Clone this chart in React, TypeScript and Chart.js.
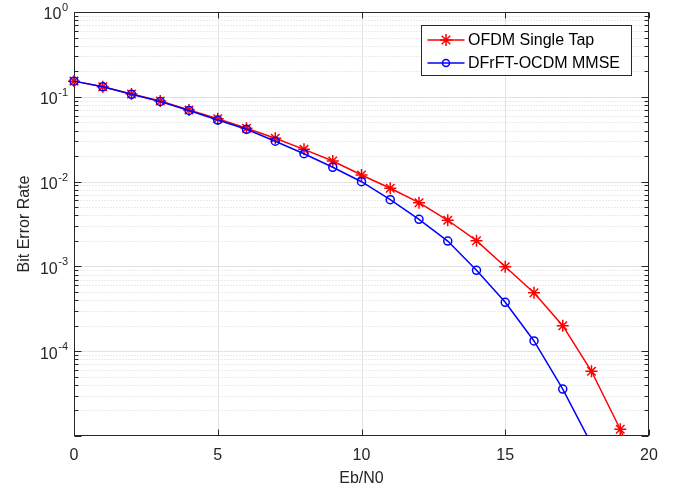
import React, { useEffect, useRef } from "react";
import { Chart, registerables } from "chart.js";

Chart.register(...registerables);

// ---- data ----
const ebn0 = [0, 1, 2, 3, 4, 5, 6, 7, 8, 9, 10, 11, 12, 13, 14, 15, 16, 17, 18, 19, 20];
const ofdmSingleTap = [
  0.153, 0.1315, 0.108, 0.0892, 0.0699, 0.0551, 0.0425, 0.0324, 0.024, 0.0175,
  0.01197, 0.00834, 0.00564, 0.0035, 0.00201, 0.00099, 0.00049, 0.0002, 5.8e-5, 1.2e-5, 2e-6,
];
const ocdmMmse = [
  0.153, 0.131, 0.107, 0.088, 0.069, 0.0532, 0.0414, 0.0299, 0.0213, 0.01475,
  0.00997, 0.00612, 0.00359, 0.00199, 0.0009, 0.000377, 0.000132, 3.58e-5, 8e-6,
];
const seriesNames = ["OFDM Single Tap", "DFrFT-OCDM MMSE"];
const xTicks = [0, 5, 10, 15, 20];
const yDecades = [1e-5, 1e-4, 1e-3, 1e-2, 1e-1, 1];
const yLabelDecades = [1, 1e-1, 1e-2, 1e-3, 1e-4];
const xTitle = "Eb/N0";
const yTitle = "Bit Error Rate";

const FONT = "'Liberation Sans', Arial, Helvetica, sans-serif";
const TEXT = "#262626";

const matlabAxes = {
  id: "matlabAxes",
  beforeDatasetsDraw(chart: any) {
    const { ctx, chartArea, scales } = chart;
    const xs = scales.x;
    const ys = scales.y;
    const L = Math.round(chartArea.left) + 0.5;
    const R = Math.round(chartArea.right) - 0.5;
    const T = Math.round(chartArea.top) + 0.5;
    const B = Math.round(chartArea.bottom) - 0.5;
    const py = (v: number) => Math.round(ys.getPixelForValue(v)) + 0.5;
    const px = (v: number) => Math.round(xs.getPixelForValue(v)) + 0.5;
    ctx.save();
    ctx.lineWidth = 1;

    // minor y grid (dotted)
    const minors: number[] = [];
    for (let i = 0; i < yDecades.length - 1; i++) {
      for (let m = 2; m <= 9; m++) minors.push(yDecades[i] * m);
    }
    ctx.setLineDash([1, 2]);
    ctx.strokeStyle = "#d6d6d6";
    ctx.beginPath();
    minors.forEach((v) => {
      const y = py(v);
      ctx.moveTo(L, y);
      ctx.lineTo(R, y);
    });
    ctx.stroke();

    // major grid (solid)
    ctx.setLineDash([]);
    ctx.strokeStyle = "#e3e3e3";
    ctx.beginPath();
    yDecades.slice(1, -1).forEach((v) => {
      const y = py(v);
      ctx.moveTo(L, y);
      ctx.lineTo(R, y);
    });
    xTicks.slice(1, -1).forEach((v) => {
      const x = px(v);
      ctx.moveTo(x, T);
      ctx.lineTo(x, B);
    });
    ctx.stroke();

    // box
    ctx.strokeStyle = TEXT;
    ctx.strokeRect(L, T, R - L, B - T);

    // ticks
    ctx.beginPath();
    yDecades.forEach((v) => {
      const y = py(v);
      ctx.moveTo(L, y);
      ctx.lineTo(L + 7, y);
      ctx.moveTo(R, y);
      ctx.lineTo(R - 7, y);
    });
    minors.forEach((v) => {
      const y = py(v);
      ctx.moveTo(L, y);
      ctx.lineTo(L + 4, y);
      ctx.moveTo(R, y);
      ctx.lineTo(R - 4, y);
    });
    xTicks.forEach((v) => {
      const x = px(v);
      ctx.moveTo(x, B);
      ctx.lineTo(x, B - 6);
      ctx.moveTo(x, T);
      ctx.lineTo(x, T + 6);
    });
    ctx.stroke();

    // y tick labels 10^n
    ctx.fillStyle = TEXT;
    ctx.textBaseline = "middle";
    const labelRight = chartArea.left - 6;
    yLabelDecades.forEach((v) => {
      const y = ys.getPixelForValue(v);
      const exp = String(Math.round(Math.log10(v)));
      ctx.font = `11px ${FONT}`;
      const ew = ctx.measureText(exp).width;
      ctx.textAlign = "left";
      ctx.fillText(exp, labelRight - ew, y - 4);
      ctx.font = `16px ${FONT}`;
      ctx.textAlign = "right";
      ctx.fillText("10", labelRight - ew - 0.5, y + 3);
    });
    ctx.restore();
  },
  afterDraw(chart: any) {
    const { ctx, chartArea } = chart;
    const bx = Math.round(chartArea.right) - 17.5;
    const left = 421.5;
    const top = Math.round(chartArea.top) + 13.5;
    const w = bx - left;
    const h = 50;
    ctx.save();
    ctx.fillStyle = "#ffffff";
    ctx.fillRect(left, top, w, h);
    ctx.strokeStyle = TEXT;
    ctx.lineWidth = 1;
    ctx.strokeRect(left, top, w, h);
    const colors = ["#ff0000", "#0000ff"];
    const rows = [top + 14.5, top + 37.5];
    seriesNames.forEach((name, i) => {
      const y = rows[i];
      ctx.strokeStyle = colors[i];
      ctx.lineWidth = 1.5;
      ctx.beginPath();
      ctx.moveTo(left + 6, y);
      ctx.lineTo(left + 43, y);
      ctx.stroke();
      const cx = left + 24.5;
      ctx.beginPath();
      if (i === 0) {
        const r = 6;
        for (let k = 0; k < 4; k++) {
          const a = (k * Math.PI) / 4;
          ctx.moveTo(cx - r * Math.cos(a), y - r * Math.sin(a));
          ctx.lineTo(cx + r * Math.cos(a), y + r * Math.sin(a));
        }
      } else {
        ctx.arc(cx, y, 3.5, 0, Math.PI * 2);
      }
      ctx.stroke();
      ctx.fillStyle = "#000000";
      ctx.font = `16px ${FONT}`;
      ctx.textAlign = "left";
      ctx.textBaseline = "middle";
      ctx.fillText(name, left + 46.5, y + 1);
    });
    ctx.restore();
  },
};

export default function App() {
  const canvasRef = useRef<HTMLCanvasElement | null>(null);

  useEffect(() => {
    const canvas = canvasRef.current;
    if (!canvas) return;
    const chart = new Chart(canvas, {
      type: "line",
      data: {
        datasets: [
          {
            label: seriesNames[0],
            data: ebn0.slice(0, ofdmSingleTap.length).map((x, i) => ({ x, y: ofdmSingleTap[i] })),
            borderColor: "#ff0000",
            backgroundColor: "#ff0000",
            borderWidth: 1.5,
            pointStyle: "star",
            pointRadius: 6,
            pointBorderWidth: 1.5,
            pointBorderColor: "#ff0000",
            pointBackgroundColor: "#ff0000",
            tension: 0,
            fill: false,
            order: 2,
            clip: { left: 10, top: 10, right: 0, bottom: 0 } as any,
          },
          {
            label: seriesNames[1],
            data: ebn0.slice(0, ocdmMmse.length).map((x, i) => ({ x, y: ocdmMmse[i] })),
            borderColor: "#0000ff",
            backgroundColor: "#0000ff",
            borderWidth: 1.5,
            pointStyle: "circle",
            pointRadius: 4,
            pointBorderWidth: 1.5,
            pointBorderColor: "#0000ff",
            pointBackgroundColor: "rgba(0,0,0,0)",
            tension: 0,
            fill: false,
            order: 1,
            clip: { left: 10, top: 10, right: 0, bottom: 0 } as any,
          },
        ],
      },
      options: {
        responsive: false,
        animation: false,
        events: [],
        layout: { padding: { top: 12, right: 34, left: 0, bottom: 0 } },
        plugins: { legend: { display: false }, tooltip: { enabled: false } },
        scales: {
          x: {
            type: "linear",
            min: 0,
            max: 20,
            ticks: { stepSize: 5, font: { family: FONT, size: 16 }, color: TEXT, padding: 10 },
            grid: { display: false, drawTicks: false },
            border: { display: false },
            title: {
              display: true,
              text: xTitle,
              font: { family: FONT, size: 16 },
              color: TEXT,
              padding: { top: 0, bottom: 2 },
            },
            afterFit: (s: any) => {
              s.height = 54;
            },
          },
          y: {
            type: "logarithmic",
            min: 1e-5,
            max: 1,
            ticks: { display: false },
            grid: { display: false, drawTicks: false },
            border: { display: false },
            title: {
              display: true,
              text: yTitle,
              font: { family: FONT, size: 16 },
              color: TEXT,
              padding: { top: 15, bottom: 0 },
            },
            afterFit: (s: any) => {
              s.width = 74;
            },
          },
        },
      },
      plugins: [matlabAxes],
    });
    return () => chart.destroy();
  }, []);

  return (
    <div style={{ position: "absolute", left: 0, top: 0, width: 683, height: 490, background: "#fff" }}>
      <canvas ref={canvasRef} width={683} height={490} style={{ display: "block" }} />
    </div>
  );
}
